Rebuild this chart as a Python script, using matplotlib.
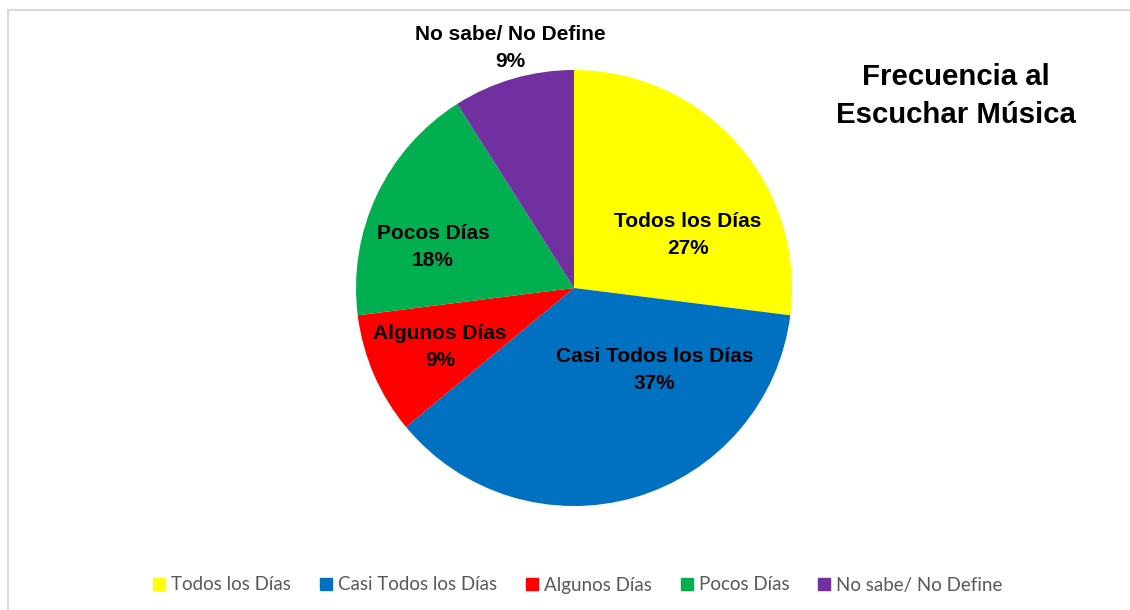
import matplotlib
matplotlib.use("Agg")
import matplotlib.pyplot as plt
from matplotlib.lines import Line2D

categories = ["Todos los Días", "Casi Todos los Días", "Algunos Días", "Pocos Días", "No sabe/ No Define"]
values = [27, 37, 9, 18, 9]
colors = ["#FFFF00", "#0070C0", "#FF0000", "#00B050", "#7030A0"]
title_lines = ["Frecuencia al", "Escuchar Música"]

# label positions (in pie radius units)
label_pos = [(0.523, 0.243), (0.37, -0.376), (-0.615, -0.27), (-0.647, 0.188), (-0.294, 1.10)]

fig = plt.figure(figsize=(11.3, 6.1), dpi=100)
fig.patch.set_facecolor("white")

# frame lines (left and top)
fig.add_artist(Line2D([8/1130, 8/1130], [0, 1 - 10/610], transform=fig.transFigure, color="#D9D9D9", lw=1.5))
fig.add_artist(Line2D([8/1130, 1], [1 - 10/610, 1 - 10/610], transform=fig.transFigure, color="#D9D9D9", lw=1.5))

cx, cy, r = 574, 288, 218
ax = fig.add_axes([(cx - r) / 1130, (610 - cy - r) / 610, 2 * r / 1130, 2 * r / 610])
wedges, _ = ax.pie(values, colors=colors, startangle=90, counterclock=False,
                   radius=1, wedgeprops=dict(linewidth=0))
ax.set_xlim(-1, 1)
ax.set_ylim(-1, 1)
ax.set_aspect("equal")
ax.axis("off")

total = sum(values)
for (x, y), cat, v in zip(label_pos, categories, values):
    ax.text(x, y, f"{cat}\n{round(100 * v / total)}%", ha="center", va="center",
            fontsize=15, fontweight="bold", family="Liberation Sans",
            linespacing=1.5, clip_on=False)

fig.text(956 / 1130, 1 - 96 / 610, "\n".join(title_lines), ha="center", va="center",
         fontsize=21.2, fontweight="bold", family="Liberation Sans", linespacing=1.45)

handles = [Line2D([], [], marker="s", linestyle="none", markersize=8, markerfacecolor=c,
                  markeredgecolor=c) for c in colors]
leg = fig.legend(handles, categories, loc="center", bbox_to_anchor=(578 / 1130, 1 - 585 / 610),
                 ncol=5, frameon=False, handlelength=0.6, handletextpad=0.35,
                 columnspacing=1.55, prop=dict(family="Lato", size=13.5))
for t in leg.get_texts():
    t.set_color("#595959")

fig.savefig("out.png", dpi=100, facecolor="white")
